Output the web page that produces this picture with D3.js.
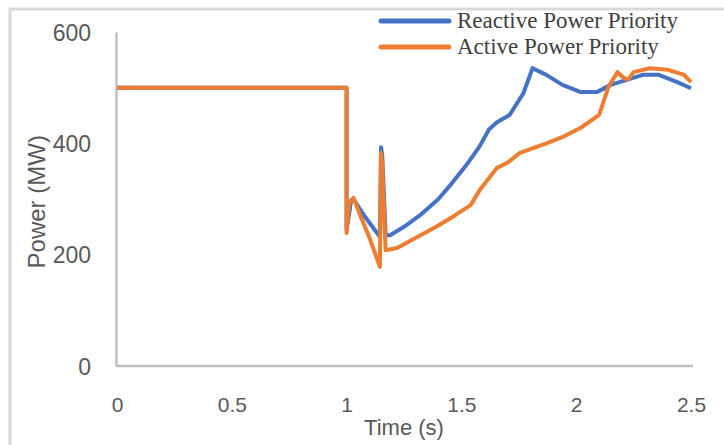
<!DOCTYPE html>
<html>
<head>
<meta charset="utf-8">
<script src="https://cdn.jsdelivr.net/npm/d3@7"></script>
<style>
  body { margin: 0; background: #fff; }
  svg { display: block; }
  .tick-label { font-family: "Liberation Sans", Arial, sans-serif; font-size: 21px; fill: #595959; }
  .y-tick { font-size: 23px; }
  .axis-title { font-family: "Liberation Sans", Arial, sans-serif; fill: #595959; }
  .legend-label { font-family: "Liberation Serif", "DejaVu Serif", serif; font-size: 23px; fill: #404040; }
</style>
</head>
<body>
<svg id="chart"></svg>
<script>
// chart data
const xTicks = [0, 0.5, 1, 1.5, 2, 2.5];
const yTicks = [0, 200, 400, 600];
const seriesNames = ["Reactive Power Priority", "Active Power Priority"];
const seriesColors = ["#4472C4", "#ED7D31"];

const reactiveTime = [0, 1.0, 1.0, 1.02, 1.03, 1.08, 1.14, 1.145, 1.15, 1.155, 1.17, 1.19, 1.25, 1.32, 1.40, 1.46, 1.52, 1.58, 1.62, 1.655, 1.71, 1.77, 1.81, 1.87, 1.94, 2.02, 2.09, 2.15, 2.22, 2.29, 2.36, 2.44, 2.50];
const reactivePower = [500, 500, 245, 298, 300, 268, 235, 232, 393, 380, 235, 235, 250, 271, 300, 329, 360, 395, 425, 438, 451, 490, 535, 523, 505, 492, 492, 505, 514, 523, 523, 510, 499];

const activeTime = [0, 1.0, 1.0, 1.01, 1.03, 1.06, 1.10, 1.145, 1.15, 1.155, 1.17, 1.22, 1.30, 1.39, 1.47, 1.54, 1.58, 1.655, 1.70, 1.755, 1.87, 1.95, 2.02, 2.10, 2.14, 2.18, 2.20, 2.225, 2.25, 2.32, 2.40, 2.47, 2.50];
const activePower = [500, 500, 239, 290, 302, 270, 230, 178, 383, 360, 208, 212, 230, 250, 270, 289, 316, 356, 365, 383, 400, 413, 428, 451, 501, 528, 520, 514, 528, 535, 532, 523, 510];

const width = 724, height = 445;
const margin = { top: 32, right: 33, bottom: 79, left: 117 };

const svg = d3.select("#chart")
  .attr("width", width)
  .attr("height", height);

// outer chart border (cropped on right/bottom)
svg.append("rect")
  .attr("x", 10)
  .attr("y", 9)
  .attr("width", 800)
  .attr("height", 500)
  .attr("fill", "none")
  .attr("stroke", "#d9d9d9")
  .attr("stroke-width", 3);

const x = d3.scaleLinear()
  .domain([0, 2.5])
  .range([margin.left, width - margin.right]);

const y = d3.scaleLinear()
  .domain([0, 600])
  .range([height - margin.bottom, margin.top]);

// axes
const xAxis = d3.axisBottom(x).tickValues(xTicks).tickSize(0).tickFormat(d3.format("~g"));
const yAxis = d3.axisLeft(y).tickValues(yTicks).tickSize(0);

const gx = svg.append("g")
  .attr("transform", `translate(0, ${y(0)})`)
  .call(xAxis);
gx.select(".domain").attr("stroke", "#bfbfbf").attr("stroke-width", 2.5)
  .attr("d", `M${x(0) - 1},0H${x(2.5) + 2}`);
gx.selectAll("text")
  .attr("class", "tick-label")
  .attr("dy", null)
  .attr("y", 46)
  .attr("font-family", null)
  .attr("font-size", null);

const gy = svg.append("g")
  .attr("transform", `translate(${x(0) - 1}, 0)`)
  .call(yAxis);
gy.select(".domain").attr("stroke", "#bfbfbf").attr("stroke-width", 2.5);
gy.selectAll("text")
  .attr("class", "tick-label y-tick")
  .attr("x", -25)
  .attr("dy", "0.36em")
  .attr("font-family", null)
  .attr("font-size", null);

// axis titles
svg.append("text")
  .attr("class", "axis-title")
  .attr("x", (x(0) + x(2.5)) / 2)
  .attr("y", 435)
  .attr("text-anchor", "middle")
  .style("font-size", "22px")
  .text("Time (s)");

svg.append("text")
  .attr("class", "axis-title")
  .attr("transform", `translate(45, ${y(295)}) rotate(-90)`)
  .attr("text-anchor", "middle")
  .style("font-size", "24px")
  .text("Power (MW)");

// lines
const line = d3.line()
  .x(d => x(d[0]))
  .y(d => y(d[1]));

const seriesData = [
  d3.zip(reactiveTime, reactivePower),
  d3.zip(activeTime, activePower)
];

seriesData.forEach((data, i) => {
  svg.append("path")
    .datum(data)
    .attr("fill", "none")
    .attr("stroke", seriesColors[i])
    .attr("stroke-width", 4)
    .attr("stroke-linejoin", "round")
    .attr("d", line);
});

// legend
const legend = svg.append("g");
seriesNames.forEach((name, i) => {
  const ly = 21 + i * 26;
  legend.append("line")
    .attr("x1", 381).attr("x2", 449)
    .attr("y1", ly).attr("y2", ly)
    .attr("stroke", seriesColors[i])
    .attr("stroke-width", 5)
    .attr("stroke-linecap", "round");
  legend.append("text")
    .attr("class", "legend-label")
    .attr("x", 457)
    .attr("y", ly + 7)
    .text(name);
});
</script>
</body>
</html>
